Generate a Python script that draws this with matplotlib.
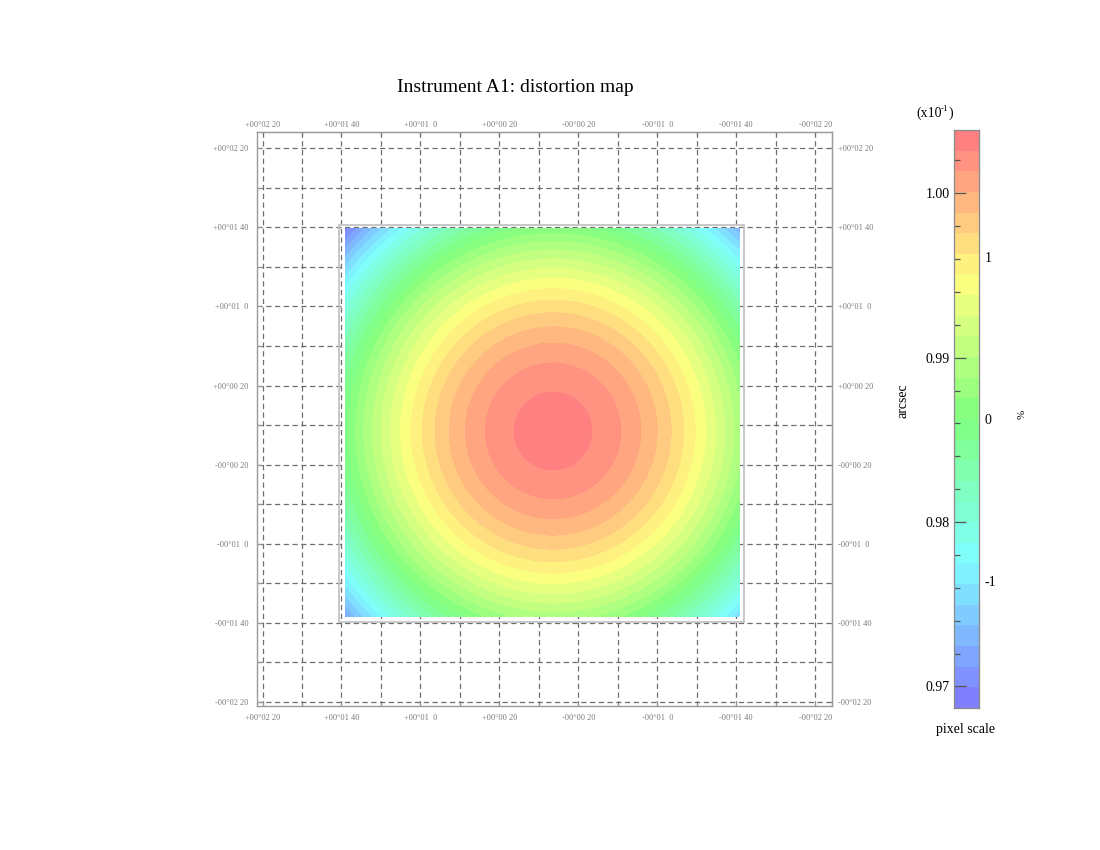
import numpy as np
import matplotlib
matplotlib.use("Agg")
import matplotlib.pyplot as plt
from matplotlib.colors import hsv_to_rgb
from matplotlib.patches import Rectangle
from matplotlib.ticker import MultipleLocator

plt.rcParams['font.family'] = ['Liberation Serif', 'DejaVu Serif']

# ---------------- data ----------------
title = "Instrument A1: distortion map"

# sky offsets of the coordinate grid (arcsec); labelled every 40"
grid_ticks = [140, 120, 100, 80, 60, 40, 20, 0, -20, -40, -60, -80, -100, -120, -140]
x_tick_labels = ["+00°02 20", "", "+00°01 40", "", "+00°01  0", "", "+00°00 20", "",
                 "-00°00 20", "", "-00°01  0", "", "-00°01 40", "", "-00°02 20"]
y_tick_labels = ["+00°02 20", "", "+00°01 40", "", "+00°01  0", "", "+00°00 20", "",
                 "-00°00 20", "", "-00°01  0", "", "-00°01 40", "", "-00°02 20"]

# detector footprint (arcsec): left, right, bottom, top
map_extent = [98.1, -101.4, -96.7, 99.5]
outline_extent = [101.2, -103.9, -99.8, 101.2]

# centre of the distortion pattern (arcsec)
centre_x = -7.2
centre_y = -3.0
# radius (arcsec) of each iso-scale contour, from the centre outwards
ring_radii = [20.2, 34.9, 45.0, 53.2, 60.3, 66.7, 72.5, 77.8, 82.9, 87.6, 92.1,
              96.4, 100.5, 104.4, 108.2, 111.9, 115.4, 118.9, 122.2, 125.5, 128.6,
              131.7, 134.8, 137.7, 140.6, 143.5, 146.3]

# colour scale (pixel scale, arcsec)
scale_min = 0.96869
scale_max = 1.00385
scale_ticks = [0.97, 0.98, 0.99, 1.00]
scale_tick_labels = ["0.97", "0.98", "0.99", "1.00"]
pct_reference = 0.98626
pct_ticks = [-1, 0, 1]
pct_tick_labels = ["-1", "0", "1"]

# ---------------- figure ----------------
W, H = 1100, 850
fig = plt.figure(figsize=(W / 100, H / 100), dpi=100)
fig.patch.set_facecolor('white')


def fx(px):
    return px / W


def fy(py):
    return 1 - py / H


n_bands = len(ring_radii) + 1
# pale rainbow: blue (low) -> red (high)
hues = np.linspace(240, 0, n_bands) / 360.0
band_colors = [hsv_to_rgb((h, 0.5, 1.0)) for h in hues]

frame_col = '#9a9a9a'
label_col = '#7a7a7a'

ax = fig.add_axes([fx(257), fy(706), fx(832) - fx(257), fy(132) - fy(706)])
ax.set_xlim(142.8, -148.5)
ax.set_ylim(-142.2, 148.3)

# distortion map
gx = np.linspace(map_extent[0], map_extent[1], 800)
gy = np.linspace(map_extent[2], map_extent[3], 800)
GX, GY = np.meshgrid(gx, gy)
R = np.hypot(GX - centre_x, GY - centre_y)
levels = [0.0] + ring_radii + [1000.0]
ax.contourf(GX, GY, R, levels=levels,
            colors=[band_colors[n_bands - 1 - k] for k in range(n_bands)],
            antialiased=False, zorder=1)

ax.add_patch(Rectangle((outline_extent[1], outline_extent[2]),
                       outline_extent[0] - outline_extent[1],
                       outline_extent[3] - outline_extent[2],
                       fill=False, ec='#c4c4c4', lw=1.3, zorder=2))

# grid
ax.set_xticks(grid_ticks)
ax.set_xticklabels(x_tick_labels)
ax.set_yticks(grid_ticks)
ax.set_yticklabels(y_tick_labels)
ax.set_axisbelow(True)
ax.grid(True, color='#6e6e6e', lw=0.9, linestyle=(0, (4.2, 2.8)))
for sp in ax.spines.values():
    sp.set_color(frame_col)
    sp.set_linewidth(1.0)
ax.tick_params(axis='x', direction='in', length=3, color=frame_col,
               labelsize=6, labelcolor=label_col, pad=5.5)
ax.tick_params(axis='y', direction='in', length=3, color=frame_col,
               labelsize=6, labelcolor=label_col, pad=6.3)

top = ax.secondary_xaxis('top')
top.set_xticks(grid_ticks)
top.set_xticklabels(x_tick_labels)
top.tick_params(direction='in', length=3, color=frame_col, labelsize=6,
                labelcolor=label_col, pad=2.5)
top.spines['top'].set_color(frame_col)

right = ax.secondary_yaxis('right')
right.set_yticks(grid_ticks)
right.set_yticklabels(y_tick_labels)
right.tick_params(direction='in', length=3, color=frame_col, labelsize=6,
                  labelcolor=label_col, pad=4.3)
right.spines['right'].set_color(frame_col)

fig.text(fx(515), fy(88), title, ha='center', va='center', fontsize=14)

# ---------------- colour bar ----------------
cax = fig.add_axes([fx(954), fy(708), fx(979) - fx(954), fy(130) - fy(708)])
cb_levels = np.linspace(scale_min, scale_max, n_bands + 1)
cax.pcolormesh([0, 1], cb_levels, np.arange(n_bands).reshape(-1, 1),
               cmap=matplotlib.colors.ListedColormap(band_colors),
               vmin=-0.5, vmax=n_bands - 0.5, shading='flat')
cax.set_xlim(0, 1)
cax.set_ylim(scale_min, scale_max)
cax.set_xticks([])
cax.set_yticks(scale_ticks)
cax.set_yticklabels(scale_tick_labels)
cax.yaxis.set_minor_locator(MultipleLocator(0.002))
cax.tick_params(axis='y', which='major', direction='in', length=8.6, width=0.9,
                color='#555555', labelsize=10, pad=3)
cax.tick_params(axis='y', which='minor', direction='in', length=4.5, width=0.9,
                color='#555555')
for sp in cax.spines.values():
    sp.set_color('#8a8a8a')
    sp.set_linewidth(0.9)


def to_pct(v):
    return (np.asarray(v) / pct_reference - 1.0) * 100.0


def from_pct(p):
    return (np.asarray(p) / 100.0 + 1.0) * pct_reference


cax2 = cax.secondary_yaxis('right', functions=(to_pct, from_pct))
cax2.set_yticks(pct_ticks)
cax2.set_yticklabels(pct_tick_labels)
cax2.yaxis.set_minor_locator(MultipleLocator(0.2))
cax2.tick_params(which='major', direction='in', length=9.4, width=0.9,
                 color='#555555', labelsize=10, pad=4)
cax2.tick_params(which='minor', direction='in', length=5.4, width=0.9,
                 color='#555555')
cax2.spines['right'].set_color('#8a8a8a')

# "(x10^-1)" multiplier, built from plain text pieces
fig.text(fx(916), fy(113), "(x10", ha='left', va='center', fontsize=10)
fig.text(fx(941), fy(109), "-1", ha='left', va='center', fontsize=6.5)
fig.text(fx(948.5), fy(113), ")", ha='left', va='center', fontsize=10)

fig.text(fx(903), fy(401), "arcsec", ha='center', va='center', rotation=90, fontsize=10)
fig.text(fx(1022), fy(414), "%", ha='center', va='center', rotation=90, fontsize=8)
fig.text(fx(966), fy(730), "pixel scale", ha='center', va='center', fontsize=10)

fig.savefig("out.png", dpi=100)
